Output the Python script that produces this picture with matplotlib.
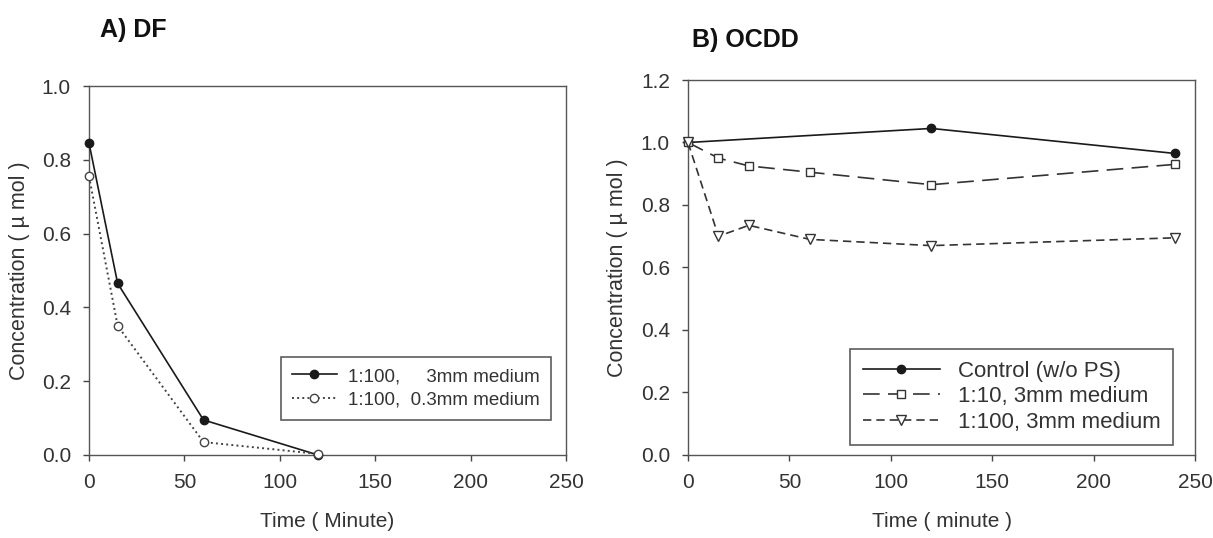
import matplotlib
matplotlib.use("Agg")
import matplotlib.pyplot as plt

plt.rcParams['font.family'] = ['Liberation Sans', 'DejaVu Sans']

# Panel A: DF
a_time = [0, 15, 60, 120]
a_3mm = [0.845, 0.465, 0.095, 0.0]
a_03mm = [0.755, 0.35, 0.035, 0.003]
a_labels = ['1:100,     3mm medium', '1:100,  0.3mm medium']

# Panel B: OCDD
b_time_ctrl = [0, 120, 240]
b_ctrl = [1.0, 1.045, 0.965]
b_time = [0, 15, 30, 60, 120, 240]
b_1_10 = [1.0, 0.95, 0.925, 0.905, 0.865, 0.93]
b_1_100 = [1.0, 0.70, 0.735, 0.69, 0.67, 0.695]
b_labels = ['Control (w/o PS)', '1:10, 3mm medium', '1:100, 3mm medium']

a_yticks = [0.0, 0.2, 0.4, 0.6, 0.8, 1.0]
b_yticks = [0.0, 0.2, 0.4, 0.6, 0.8, 1.0, 1.2]
xticks = [0, 50, 100, 150, 200, 250]

txt = '#333333'
lc = '#1a1a1a'
fig = plt.figure(figsize=(12.13, 5.38), dpi=100)
axA = fig.add_axes([0.0734, 0.1543, 0.3932, 0.6858])
axB = fig.add_axes([0.5672, 0.1543, 0.418, 0.697])

def style(ax, yticks, ylim, xlabel, ylx, xly):
    ax.set_xlim(0, 250)
    ax.set_ylim(*ylim)
    ax.set_xticks(xticks)
    ax.set_yticks(yticks)
    ax.set_yticklabels([f'{v:.1f}' for v in yticks])
    ax.tick_params(direction='out', length=4, width=1, colors='#444444',
                   labelsize=15, labelcolor=txt, top=False, right=False, pad=9)
    for s in ax.spines.values():
        s.set_color('#555555')
        s.set_linewidth(1.0)
    ax.set_ylabel('Concentration ( µ mol )', fontsize=15.5, color=txt)
    ax.yaxis.set_label_coords(ylx, 0.5)
    ax.set_xlabel(xlabel, fontsize=15, color=txt)
    ax.xaxis.set_label_coords(0.5, xly)

axA.plot(a_time, a_3mm, '-', color=lc, lw=1.2, marker='o', ms=6,
         mfc=lc, mec=lc, label=a_labels[0], clip_on=False, zorder=3)
axA.plot(a_time, a_03mm, ':', color='#444444', lw=1.4, marker='o', ms=6,
         mfc='white', mec='#444444', label=a_labels[1], clip_on=False, zorder=3)
style(axA, a_yticks, (0, 1.0), 'Time ( Minute)', -0.124, -0.155)
legA = axA.legend(loc='lower right', bbox_to_anchor=(0.9686, 0.0949), fontsize=13.5,
                  frameon=True, fancybox=False, edgecolor='#333333',
                  handlelength=2.4, handletextpad=0.6, borderpad=0.6,
                  labelspacing=0.35, labelcolor=txt, borderaxespad=0)
legA.get_frame().set_linewidth(1.2)

axB.plot(b_time_ctrl, b_ctrl, '-', color=lc, lw=1.2, marker='o', ms=6,
         mfc=lc, mec=lc, label=b_labels[0], clip_on=False, zorder=3)
axB.plot(b_time, b_1_10, color='#333333', lw=1.2, dashes=(10, 5), marker='s', ms=6,
         mfc='white', mec='#333333', label=b_labels[1], clip_on=False, zorder=3)
axB.plot(b_time, b_1_100, color='#333333', lw=1.2, dashes=(5, 3), marker='v', ms=6.5,
         mfc='white', mec='#333333', label=b_labels[2], clip_on=False, zorder=3)
style(axB, b_yticks, (0, 1.2), 'Time ( minute )', -0.118, -0.152)
legB = axB.legend(loc='lower right', bbox_to_anchor=(0.9566, 0.027), fontsize=16,
                  frameon=True, fancybox=False, edgecolor='#333333',
                  handlelength=3.5, handletextpad=0.8, borderpad=0.55,
                  labelspacing=0.2, labelcolor=txt, borderaxespad=0)
legB.get_frame().set_linewidth(1.2)

fig.text(100 / 1213, 1 - 30 / 538, 'A) DF', fontsize=18, fontweight='bold',
         color='#111111', ha='left', va='center')
fig.text(692 / 1213, 1 - 40 / 538, 'B) OCDD', fontsize=18, fontweight='bold',
         color='#111111', ha='left', va='center')

fig.savefig('out.png', dpi=100, facecolor='white')
